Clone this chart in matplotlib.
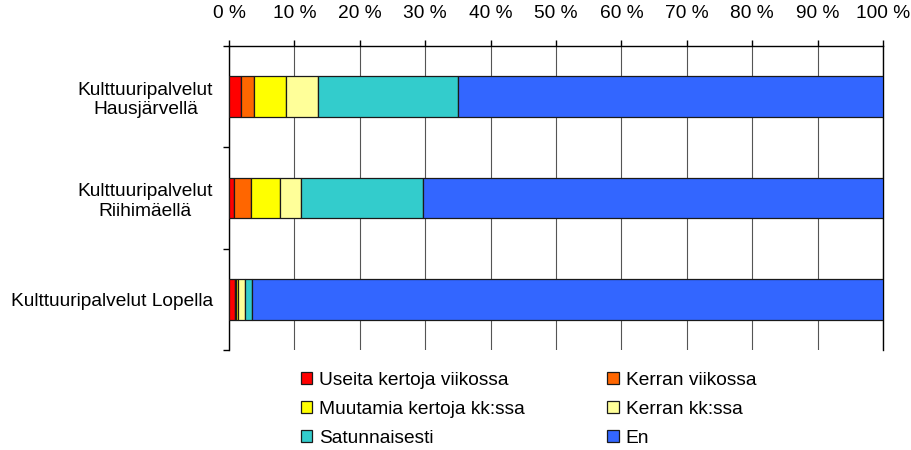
import matplotlib
matplotlib.use("Agg")
import matplotlib.pyplot as plt
from matplotlib.ticker import FixedLocator

plt.rcParams["font.family"] = ["Liberation Sans", "DejaVu Sans"]

# Kulttuuripalvelujen käyttö (osuudet %)
categories = [
    "Kulttuuripalvelut\nHausjärvellä",
    "Kulttuuripalvelut\nRiihimäellä",
    "Kulttuuripalvelut Lopella",
]
series_names = [
    "Useita kertoja viikossa",
    "Kerran viikossa",
    "Muutamia kertoja kk:ssa",
    "Kerran kk:ssa",
    "Satunnaisesti",
    "En",
]
useita_viikossa = [1.8, 0.7, 0.9]
kerran_viikossa = [2.0, 2.7, 0.15]
muutamia_kk = [4.85, 4.4, 0.35]
kerran_kk = [5.0, 3.2, 1.1]
satunnaisesti = [21.3, 18.6, 0.95]
en = [65.0, 70.4, 96.55]
series_values = [useita_viikossa, kerran_viikossa, muutamia_kk, kerran_kk, satunnaisesti, en]
colors = ["#ff0000", "#ff6600", "#ffff00", "#ffff99", "#33cccc", "#3366ff"]
x_ticks = list(range(0, 101, 10))

FS = 13.8

fig = plt.figure(figsize=(9.12, 4.5), dpi=100)
ax = fig.add_axes([229 / 912, 100 / 450, 654 / 912, 304 / 450])

ypos = list(range(len(categories)))
left = [0.0] * len(categories)
handles = []
for name, vals, col in zip(series_names, series_values, colors):
    h = ax.barh(ypos, vals, left=left, height=0.4, color=col,
                edgecolor="#1a1a1a", linewidth=0.9, label=name, zorder=3)
    handles.append(h)
    left = [a + b for a, b in zip(left, vals)]

ax.set_xlim(0, 100)
ax.set_ylim(2.5, -0.5)

# x-akseli ylhäällä, prosenttimerkinnät
ax.xaxis.tick_top()
ax.set_xticks(x_ticks)
ax.xaxis.set_major_formatter(lambda v, p: f"{int(v)} %")
ax.tick_params(axis="x", which="major", direction="out", length=4, width=1,
               pad=13, labelsize=FS, colors="black")
ax.grid(axis="x", color="#555555", linewidth=0.8, zorder=0)

ax.set_yticks(ypos)
ax.set_yticklabels(categories, fontsize=FS, ha="right", multialignment="center")
ax.yaxis.set_minor_locator(FixedLocator([-0.5, 0.5, 1.5, 2.5]))
ax.tick_params(axis="y", which="major", length=0, pad=11.5)
ax.tick_params(axis="y", which="minor", length=4.5, width=1, direction="out")

ax.spines["bottom"].set_visible(False)
for s in ("top", "left", "right"):
    ax.spines[s].set_color("black")
    ax.spines[s].set_linewidth(1)

# selite riveittäin kuten alkuperäisessä
row_major = [handles[i] for i in (0, 2, 4, 1, 3, 5)]
fig.legend(row_major, [h.get_label() for h in row_major],
           loc="upper left", bbox_to_anchor=(301 / 912, 1 - 372 / 450),
           ncol=2, frameon=False, fontsize=FS, borderpad=0, borderaxespad=0,
           handlelength=0.6, handleheight=0.6, handletextpad=0.35,
           columnspacing=4.3, labelspacing=0.62)

fig.savefig("out.png", dpi=100)
